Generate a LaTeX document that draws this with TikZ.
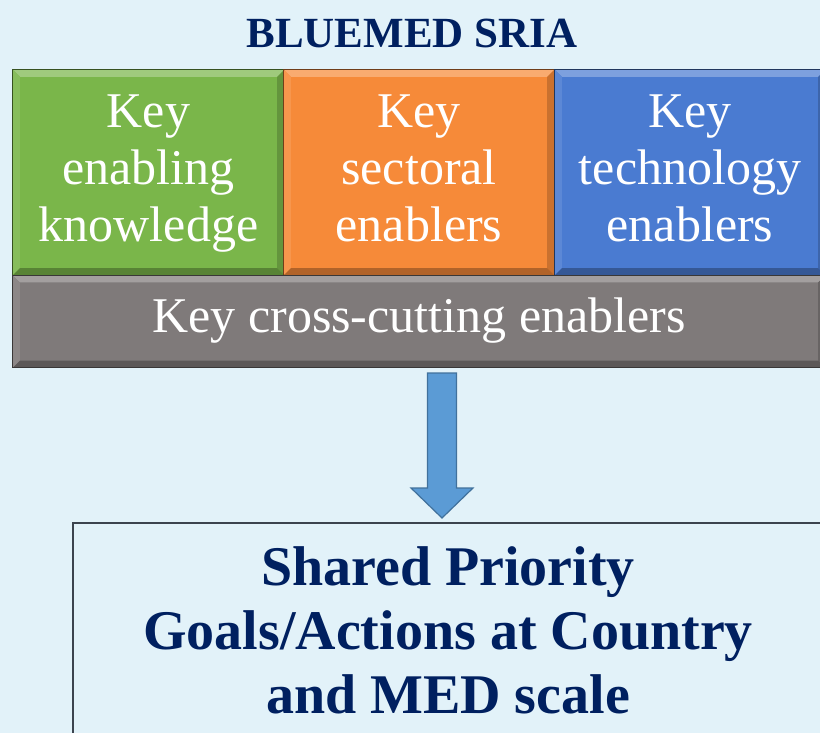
\documentclass[tikz,border=0pt]{standalone}
\usepackage{fontspec}
\setmainfont{Liberation Serif}
\usetikzlibrary{calc}
\definecolor{bg}{RGB}{226,242,249}
\definecolor{navy}{RGB}{0,32,96}
\definecolor{cgreen}{RGB}{122,182,74}
\definecolor{corange}{RGB}{246,138,57}
\definecolor{cblue}{RGB}{74,123,209}
\definecolor{cgray}{RGB}{127,122,122}
\definecolor{carrow}{RGB}{91,155,213}
\definecolor{carrowline}{RGB}{65,113,156}
\definecolor{cframe}{RGB}{60,68,78}
\newcommand{\bevelfx}[2]{%
  \fill[#2!72!white] (#1.north west) -- (#1.north east) -- ($(#1.north east)+(-7,7)$) -- ($(#1.north west)+(7,7)$) -- cycle;
  \fill[#2!90!white] (#1.north west) -- ($(#1.north west)+(7,7)$) -- ($(#1.south west)+(7,-7)$) -- (#1.south west) -- cycle;
  \fill[#2!82!black] (#1.north east) -- ($(#1.north east)+(-7,7)$) -- ($(#1.south east)+(-7,-7)$) -- (#1.south east) -- cycle;
  \fill[#2!72!black] (#1.south west) -- ($(#1.south west)+(7,-7)$) -- ($(#1.south east)+(-7,-7)$) -- (#1.south east) -- cycle;
  \draw[#2!45!black, line width=1pt] (#1.north west) rectangle (#1.south east);
}
\begin{document}
\begin{tikzpicture}[x=1pt,y=-1pt,
  enabler/.style={inner sep=0pt, align=center, text=white,
    font=\fontsize{50}{57}\selectfont},
  topbox/.style={enabler, minimum height=205pt, minimum width=270pt},
  crossbox/.style={enabler, minimum height=92pt, minimum width=812pt, fill=cgray},
  goalbox/.style={draw=cframe, line width=1.6pt, inner sep=0pt},
  goaltext/.style={align=center, text=navy, inner sep=0pt,
    font=\bfseries\fontsize{56}{64}\selectfont},
  titletext/.style={text=navy, inner sep=0pt, font=\bfseries\fontsize{43}{50}\selectfont},
  blockarrow/.style={fill=carrow, draw=carrowline, line width=1.2pt, line join=miter}]
\useasboundingbox (0,0) rectangle (820,733);
\clip (0,0) rectangle (820,733);
\fill[bg] (0,0) rectangle (820,733);

\node[titletext] (title) at (412,33) {BLUEMED SRIA};

% top boxes (fills first, then bevels, then text)
\node[topbox, fill=cgreen, minimum width=271pt] (green) at (148.5,172.5) {};
\node[topbox, fill=corange] (orange) at (419,172.5) {};
\node[topbox, fill=cblue] (blue) at (690,172.5) {};
\node[crossbox] (gray) at (419,321.5) {};
\bevelfx{green}{cgreen}
\bevelfx{orange}{corange}
\bevelfx{blue}{cblue}
\bevelfx{gray}{cgray}
\node[enabler] (greent) at ($(green.center)+(0,4.5)$) {Key\\enabling\\knowledge\strut};
\node[enabler] (oranget) at ($(orange.center)+(0,4.5)$) {Key\\sectoral\\enablers\strut};
\node[enabler] (bluet) at ($(blue.center)+(0,4.5)$) {Key\\technology\\enablers\strut};
\node[enabler] (grayt) at ($(gray.center)+(0,-0.5)$) {Key cross-cutting enablers};

% goal box
\node[goalbox, minimum width=770pt, minimum height=240pt, anchor=north west] (goal) at (72,522) {};
\node[goaltext] (goalt) at (448,630) {Shared Priority\\Goals/Actions at Country\\and MED scale};

% block arrow from the enablers to the goals
\coordinate (atop) at (442,373);
\coordinate (atip) at (442,518);
\draw[blockarrow] ($(atop)+(-14.5,0)$) -- ($(atop)+(14.5,0)$) -- ($(atip)+(14.5,-30)$) -- ($(atip)+(31,-30)$)
  -- (atip) -- ($(atip)+(-31,-30)$) -- ($(atip)+(-14.5,-30)$) -- cycle;
\end{tikzpicture}
\end{document}
